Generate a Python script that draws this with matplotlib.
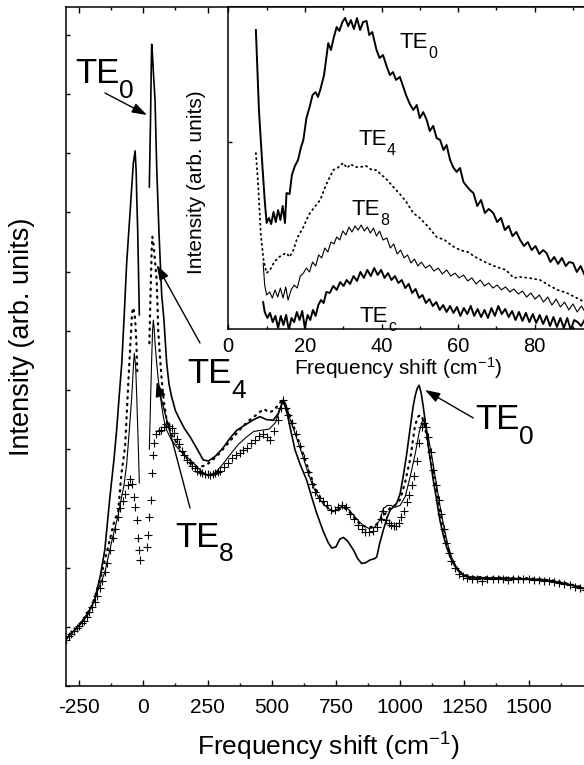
import numpy as np
import matplotlib
matplotlib.use('Agg')
import matplotlib.pyplot as plt
from matplotlib.ticker import MultipleLocator
from matplotlib.patches import FancyArrowPatch

plt.rcParams['font.family'] = ['Liberation Sans', 'DejaVu Sans']
plt.rcParams['mathtext.fontset'] = 'custom'
plt.rcParams['mathtext.rm'] = 'Liberation Sans'
plt.rcParams['mathtext.it'] = 'Liberation Sans:italic'
plt.rcParams['mathtext.bf'] = 'Liberation Sans:bold'
plt.rcParams['axes.unicode_minus'] = False

# ---------------- main panel data (x: cm^-1, y: arb. units) ----------------
tec_x = [-300, -290, -280, -270, -260, -250, -240, -230, -220, -210, -200, -190, -180, -170,
         -160, -150, -140, -130, -120, -110, -100, -90, -80, -70, -60, -52, -45, -38, -32,
         -26, -20, -16, -13,
         15, 20, 24, 28, 32, 36, 42, 50, 60, 70, 80, 90, 100, 110, 120, 130, 140, 150, 160,
         170, 180, 190, 200, 210, 220, 230, 240, 250, 260, 270, 280, 290, 300, 315, 330, 345,
         360, 375, 390, 405, 420, 435, 450, 465, 480, 495, 510, 525, 535, 545, 555, 565, 580,
         595, 610, 625, 640, 655, 670, 685, 700, 715, 730, 745, 760, 775, 790, 805, 820, 835,
         850, 865, 880, 895, 910, 925, 935, 945, 955, 965, 975, 985, 995, 1005, 1015, 1025,
         1035, 1045, 1055, 1065, 1075, 1085, 1092, 1100, 1110, 1120, 1130, 1140, 1150, 1160,
         1170, 1180, 1190, 1200, 1215, 1230, 1245, 1260, 1280, 1300, 1320, 1340, 1360, 1380,
         1400, 1420, 1440, 1460, 1480, 1500, 1520, 1540, 1560, 1580, 1600, 1620, 1640, 1660,
         1680, 1700, 1720]
tec_y = [0.78, 0.85, 0.88, 0.93, 0.98, 1.02, 1.06, 1.10, 1.17, 1.25, 1.33, 1.42, 1.52, 1.65,
         1.78, 1.92, 2.08, 2.30, 2.50, 2.66, 2.85, 3.00, 3.12, 3.25, 3.40, 3.50, 3.42, 3.20, 3.02,
         2.80, 2.50, 2.30, 2.13,
         2.35, 2.55, 2.85, 3.15, 3.60, 3.90, 4.10, 4.25, 4.30, 4.33, 4.38, 4.42, 4.40, 4.36, 4.28,
         4.18, 4.08, 3.97, 3.90, 3.82, 3.78, 3.72, 3.68, 3.64, 3.62, 3.60, 3.58, 3.58, 3.57, 3.58,
         3.60, 3.62, 3.64, 3.70, 3.77, 3.85, 3.90, 3.93, 3.98, 4.02, 4.10, 4.16, 4.22, 4.25, 4.20,
         4.16, 4.30, 4.50, 4.70, 4.83, 4.70, 4.58, 4.45, 4.25, 4.05, 3.85, 3.62, 3.42, 3.28, 3.18,
         3.12, 3.05, 2.98, 2.97, 3.02, 3.06, 3.02, 2.90, 2.82, 2.72, 2.65, 2.60, 2.60, 2.62, 2.68,
         2.82, 2.95, 2.80, 2.75, 2.72, 2.70, 2.70, 2.76, 2.85, 2.95, 3.10, 3.22, 3.40, 3.55, 3.80,
         4.10, 4.38, 4.44, 4.38, 4.20, 3.95, 3.65, 3.40, 3.15, 2.90, 2.65, 2.42, 2.25, 2.12, 2.00,
         1.90, 1.85, 1.82, 1.81, 1.80, 1.78, 1.80, 1.80, 1.81, 1.80, 1.79, 1.80, 1.80, 1.81, 1.80,
         1.79, 1.79, 1.78, 1.78, 1.76, 1.74, 1.72, 1.70, 1.68, 1.65, 1.62]

te0_as_x = [-300, -260, -220, -190, -168, -150, -130, -115, -104, -94, -84, -74, -65, -52, -39,
            -32, -28, -25.7, -22, -19.5, -15.6]
te0_as_y = [0.80, 0.98, 1.18, 1.45, 1.85, 2.30, 3.20, 3.80, 4.32, 4.90, 5.45, 6.30, 7.14, 7.98,
            8.83, 9.04, 8.70, 8.27, 7.70, 7.14, 6.27]
te0_s_x = [23.4, 26, 28, 31, 32.7, 35, 40, 45.6, 52, 61, 71.6, 80, 91, 100, 110, 125, 143, 160,
           182, 210, 233, 253, 280, 310, 340, 364, 400, 430, 454, 480, 506, 525, 545, 560, 575,
           590, 610, 636, 655, 675, 700, 720, 734, 750, 765, 779, 795, 818, 835, 850, 865, 883,
           900, 909, 920, 935, 950, 961, 975, 987, 1000, 1012, 1025, 1038, 1050, 1058, 1066,
           1074, 1082, 1090, 1100, 1110, 1120, 1129, 1142, 1155, 1168, 1181, 1195, 1207, 1225,
           1246, 1270, 1300, 1350, 1400, 1450, 1500, 1550, 1600, 1650, 1700, 1720]
te0_s_y = [8.43, 9.10, 9.56, 10.50, 10.84, 10.70, 10.30, 9.90, 8.77, 7.65, 6.60, 6.20, 5.45,
           5.10, 4.89, 4.65, 4.49, 4.35, 4.21, 4.00, 3.82, 3.80, 3.88, 4.02, 4.20, 4.32, 4.42,
           4.50, 4.55, 4.50, 4.49, 4.60, 4.83, 4.60, 4.30, 4.00, 3.75, 3.48, 3.20, 2.92, 2.62,
           2.42, 2.33, 2.35, 2.48, 2.51, 2.45, 2.30, 2.15, 2.07, 2.08, 2.13, 2.15, 2.18, 2.40,
           2.64, 2.85, 2.97, 3.03, 3.09, 3.25, 3.54, 3.90, 4.32, 4.70, 4.89, 5.02, 5.08, 4.95,
           4.72, 4.40, 4.04, 3.75, 3.48, 3.15, 2.80, 2.55, 2.35, 2.18, 2.07, 1.95, 1.87, 1.83,
           1.82, 1.82, 1.82, 1.81, 1.80, 1.80, 1.77, 1.72, 1.67, 1.64]

te4_as_x = [-300, -250, -200, -168, -140, -115, -98, -85, -71, -58, -44, -39, -32, -27, -23.4]
te4_as_y = [0.80, 1.02, 1.35, 1.80, 2.30, 2.75, 2.95, 3.60, 4.04, 5.17, 6.30, 6.39, 6.20, 5.80,
            5.29]
te4_s_x = [23.4, 28, 32, 35, 40, 45, 52, 58, 65, 71.6, 80, 91, 110, 130, 155, 182, 210, 240,
           260, 290, 320, 350, 380, 410, 440, 454, 470, 490, 510, 530, 545, 560, 580, 600, 620,
           640, 660, 680, 700, 720, 740, 760, 780, 800, 820, 840, 860, 880, 900, 920, 940, 960,
           980, 1000, 1020, 1040, 1058, 1070, 1080, 1090, 1100, 1115, 1130, 1145, 1160, 1175,
           1190, 1205, 1220, 1240, 1270, 1300, 1400, 1500, 1600, 1700, 1720]
te4_s_y = [5.79, 6.60, 7.30, 7.59, 7.45, 7.20, 6.86, 6.01, 5.55, 5.17, 4.80, 4.49, 4.25, 4.10,
           3.95, 3.76, 3.70, 3.72, 3.78, 3.90, 4.05, 4.20, 4.35, 4.48, 4.58, 4.63, 4.68, 4.62,
           4.66, 4.78, 4.83, 4.70, 4.45, 4.20, 3.95, 3.70, 3.45, 3.25, 3.12, 3.00, 2.95, 2.98,
           3.02, 2.95, 2.85, 2.75, 2.70, 2.68, 2.70, 2.78, 2.90, 3.00, 3.05, 3.15, 3.45, 3.85,
           4.40, 4.55, 4.58, 4.50, 4.30, 3.95, 3.55, 3.20, 2.85, 2.50, 2.25, 2.10, 2.00, 1.90,
           1.85, 1.84, 1.83, 1.82, 1.78, 1.68, 1.65]

te8_as_x = [-300, -250, -200, -150, -120, -100, -90.7, -75, -64.6, -55, -45, -38, -35, -30,
            -25.7, -20, -15.6]
te8_as_y = [0.80, 1.02, 1.35, 1.92, 2.50, 2.85, 3.05, 3.40, 3.76, 4.30, 4.89, 5.45, 5.62, 5.40,
            4.89, 4.10, 3.43]
te8_s_x = [23.4, 28, 33, 36, 39, 42, 45.6, 52, 58.4, 65, 71.6, 80, 91, 110, 130, 155, 182, 210,
           233, 255, 280, 310, 340, 370, 400, 430, 460, 490, 515, 530, 545, 560, 580, 600, 620,
           640, 660, 680, 700, 720, 740, 760, 780, 800, 820, 840, 860, 880, 900, 920, 935, 950,
           965, 980, 1000, 1020, 1040, 1060, 1075, 1088, 1098, 1110, 1125, 1140, 1155, 1170,
           1185, 1200, 1220, 1245, 1280, 1350, 1450, 1550, 1650, 1720]
te8_s_y = [4.00, 4.80, 5.60, 6.00, 6.18, 6.05, 5.79, 5.45, 5.17, 4.95, 4.72, 4.50, 4.32, 4.15,
           4.04, 3.92, 3.82, 3.70, 3.59, 3.55, 3.60, 3.75, 3.92, 4.08, 4.20, 4.30, 4.32, 4.34,
           4.45, 4.65, 4.83, 4.65, 4.40, 4.15, 3.90, 3.62, 3.38, 3.20, 3.08, 3.00, 2.95, 3.00,
           3.05, 2.98, 2.88, 2.78, 2.70, 2.66, 2.68, 2.80, 3.00, 3.05, 3.05, 3.02, 3.05, 3.20,
           3.55, 3.95, 4.30, 4.50, 4.42, 4.20, 3.85, 3.45, 3.05, 2.70, 2.40, 2.18, 2.00, 1.88,
           1.84, 1.83, 1.82, 1.80, 1.73, 1.64]

main_xticks = [-250, 0, 250, 500, 750, 1000, 1250, 1500]
main_xticklabels = ['-250', '0', '250', '500', '750', '1000', '1250', '1500']

# ---------------- inset data (low-frequency region) ----------------
in_te0_x = [7.2, 8.0, 8.8, 9.5, 10.0, 10.6, 11.2, 11.8, 12.4, 13.0, 13.6, 14.2, 14.8, 15.2, 16.0,
            16.6, 17.4, 18.2, 19.0, 19.6, 20.4, 21.3, 22.0, 22.8, 23.4, 24.0, 25.0, 26.1, 26.8,
            27.5, 28.3, 29.0, 29.8, 30.5, 31.3, 32.0, 32.8, 33.6, 34.4, 35.2, 36.1, 36.8, 37.6,
            38.7, 39.5, 40.4, 41.4, 42.2, 43.0, 43.8, 44.8, 45.7, 46.5, 47.4, 48.3, 49.2, 50.0,
            50.9, 51.8, 52.6, 53.5, 54.4, 55.3, 56.2, 57.0, 57.9, 58.7, 59.6, 60.5, 61.4, 62.2,
            63.1, 64.0, 65.0, 66.0, 67.0, 68.0, 69.2, 70.2, 71.2, 72.2, 73.2, 74.2, 75.2, 76.2,
            77.2, 78.2, 79.2, 80.2, 81.2, 82.2, 83.1, 84.1, 85.1, 86.1, 87.1, 88.1, 89.0, 90.0,
            91.0, 92.0, 93.0, 94.0]
in_te0_y = [1.599, 1.171, 0.904, 0.690, 0.567, 0.594, 0.561, 0.626, 0.572, 0.636, 0.583, 0.658,
            0.567, 0.727, 0.722, 0.824, 0.872, 0.904, 0.973, 1.011, 1.128, 1.193, 1.251, 1.267,
            1.241, 1.278, 1.358, 1.529, 1.492, 1.556, 1.615, 1.594, 1.642, 1.663, 1.620, 1.652,
            1.604, 1.663, 1.599, 1.642, 1.647, 1.572, 1.588, 1.492, 1.449, 1.465, 1.401, 1.358,
            1.374, 1.332, 1.348, 1.294, 1.246, 1.203, 1.171, 1.198, 1.128, 1.160, 1.118, 1.059,
            1.086, 1.021, 1.011, 0.957, 0.984, 0.904, 0.866, 0.840, 0.861, 0.786, 0.765, 0.743,
            0.727, 0.658, 0.690, 0.620, 0.642, 0.620, 0.572, 0.594, 0.529, 0.551, 0.497, 0.519,
            0.476, 0.444, 0.465, 0.422, 0.444, 0.401, 0.422, 0.406, 0.358, 0.385, 0.348, 0.380,
            0.337, 0.358, 0.353, 0.305, 0.337, 0.289, 0.305]

in_te4_x = [7.2, 7.8, 8.5, 9.2, 10.0, 10.9, 12.0, 13.0, 14.0, 15.2, 16.0, 17.0, 18.0, 19.6, 21.0,
            22.5, 24.0, 25.5, 27.4, 28.5, 30.0, 31.0, 32.0, 33.0, 34.4, 36.0, 37.5, 38.7, 40.0,
            41.5, 43.1, 45.0, 46.5, 48.3, 50.0, 52.0, 54.4, 56.5, 58.5, 60.5, 62.5, 64.5, 67.5,
            70.0, 72.5, 74.5, 76.2, 78.5, 81.4, 84.0, 86.0, 88.4, 90.5, 93.0]
in_te4_y = [0.941, 0.770, 0.503, 0.369, 0.299, 0.316, 0.358, 0.380, 0.396, 0.406, 0.385, 0.422,
            0.487, 0.545, 0.610, 0.652, 0.690, 0.770, 0.850, 0.861, 0.888, 0.861, 0.882, 0.866,
            0.866, 0.872, 0.850, 0.850, 0.824, 0.797, 0.759, 0.717, 0.679, 0.620, 0.594, 0.551,
            0.492, 0.476, 0.444, 0.422, 0.412, 0.385, 0.353, 0.332, 0.316, 0.273, 0.278, 0.273,
            0.262, 0.230, 0.209, 0.193, 0.171, 0.144]

in_te8_x = [9.1, 9.5, 10.0, 10.8, 11.5, 12.2, 12.9, 13.6, 14.3, 15.0, 15.6, 16.4, 17.2, 18.0,
            18.8, 19.6, 20.4, 21.2, 22.0, 22.8, 23.6, 24.4, 25.2, 26.0, 26.8, 27.6, 28.3, 29.1,
            29.9, 30.7, 31.5, 32.3, 33.1, 33.9, 34.7, 35.5, 36.3, 37.1, 37.9, 38.7, 39.5, 40.4,
            41.4, 42.3, 43.2, 44.1, 45.0, 45.9, 46.8, 47.7, 48.6, 49.5, 50.4, 51.5, 52.6, 53.7,
            54.8, 55.9, 57.0, 58.1, 59.2, 60.3, 61.4, 62.5, 63.6, 64.7, 65.8, 66.9, 68.0, 69.1,
            70.2, 71.3, 72.4, 73.5, 74.6, 75.7, 76.8, 77.9, 79.0, 80.1, 81.2, 82.3, 83.4, 84.5,
            85.6, 86.7, 87.8, 88.9, 90.0, 91.1, 92.2, 93.3]
in_te8_y = [0.353, 0.235, 0.182, 0.198, 0.166, 0.209, 0.171, 0.219, 0.166, 0.225, 0.155, 0.209,
            0.235, 0.219, 0.283, 0.299, 0.326, 0.305, 0.358, 0.337, 0.396, 0.380, 0.433, 0.412,
            0.465, 0.455, 0.492, 0.476, 0.524, 0.503, 0.545, 0.519, 0.551, 0.529, 0.556, 0.524,
            0.545, 0.513, 0.540, 0.497, 0.524, 0.476, 0.487, 0.433, 0.455, 0.401, 0.422, 0.380,
            0.396, 0.353, 0.374, 0.337, 0.358, 0.326, 0.342, 0.310, 0.326, 0.294, 0.316, 0.283,
            0.299, 0.273, 0.289, 0.257, 0.273, 0.241, 0.262, 0.230, 0.246, 0.219, 0.235, 0.209,
            0.225, 0.198, 0.214, 0.187, 0.203, 0.171, 0.193, 0.160, 0.182, 0.144, 0.171, 0.128,
            0.160, 0.118, 0.144, 0.102, 0.134, 0.091, 0.123, 0.086]

in_tec_x = [9.1, 9.5, 10.2, 10.9, 11.6, 12.3, 13.0, 13.7, 14.4, 15.1, 15.8, 16.5, 17.2, 17.9,
            18.6, 19.3, 20.0, 20.7, 21.4, 22.1, 22.8, 23.5, 24.2, 24.9, 25.6, 26.5, 27.4, 28.3,
            29.2, 30.1, 30.9, 31.8, 32.7, 33.6, 34.5, 35.4, 36.3, 37.2, 38.1, 39.0, 39.9, 40.8,
            41.7, 42.6, 43.5, 44.4, 45.3, 46.2, 47.1, 48.0, 48.9, 49.8, 50.7, 51.6, 52.5, 53.4,
            54.3, 55.2, 56.1, 57.0, 57.9, 58.8, 59.7, 60.6, 61.5, 62.4, 63.3, 64.2, 65.1, 66.0,
            66.9, 67.8, 68.7, 69.6, 70.5, 71.4, 72.3, 73.2, 74.1, 75.0, 75.9, 76.8, 77.7, 78.6,
            79.5, 80.4, 81.3, 82.2, 83.1, 84.0, 84.9, 85.8, 86.7, 87.6, 88.5, 89.4, 90.3, 91.2,
            92.1, 93.0]
in_tec_y = [0.144, 0.091, 0.059, 0.086, 0.037, 0.070, 0.005, 0.070, 0.021, 0.075, -0.005, 0.059,
            0.037, 0.091, 0.048, 0.096, 0.005, 0.075, 0.048, 0.102, 0.070, 0.128, 0.155, 0.139,
            0.198, 0.193, 0.230, 0.209, 0.251, 0.230, 0.262, 0.241, 0.283, 0.257, 0.305, 0.273,
            0.316, 0.283, 0.326, 0.289, 0.316, 0.273, 0.299, 0.262, 0.283, 0.246, 0.262, 0.219,
            0.241, 0.193, 0.214, 0.166, 0.182, 0.139, 0.160, 0.123, 0.144, 0.102, 0.128, 0.091,
            0.123, 0.086, 0.118, 0.070, 0.112, 0.080, 0.123, 0.070, 0.107, 0.064, 0.102, 0.059,
            0.112, 0.070, 0.123, 0.080, 0.107, 0.064, 0.096, 0.048, 0.091, 0.043, 0.086, 0.037,
            0.080, 0.032, 0.075, 0.027, 0.070, 0.016, 0.064, 0.011, 0.059, 0.005, 0.059, -0.005,
            0.048, 0.037, 0.016, 0.048]

inset_xticks = [0, 20, 40, 60, 80]
inset_xticklabels = ['0', '20', '40', '60', '80']

# ---------------- figure ----------------
W, H = 584, 765
fig = plt.figure(figsize=(W / 100, H / 100), dpi=100)
renderer = fig.canvas.get_renderer()


def fx(px):
    return px / W


def fy(py):
    return 1 - py / H


def te_label(x_px, base_px, sub, size, sub_scale=0.76, drop=0.42, gap=0.0):
    t = fig.text(fx(x_px), fy(base_px), 'TE', fontsize=size, va='baseline', ha='left')
    bb = t.get_window_extent(renderer)
    em = size * 100 / 72
    fig.text((bb.x1 + gap) / W, fy(base_px + drop * em), sub, fontsize=size * sub_scale,
             va='baseline', ha='left')


ax = fig.add_axes([fx(66.3), fy(686), (592.7 - 66.3) / W, 679 / H])
ax.plot(tec_x, tec_y, linestyle='none', marker='+', ms=6, mew=0.8, color='black')
ax.plot(te0_as_x, te0_as_y, '-', color='black', lw=1.2)
ax.plot(te0_s_x, te0_s_y, '-', color='black', lw=1.2)
ax.plot(te4_as_x, te4_as_y, color='black', lw=1.6, linestyle=(0, (0.6, 2.4)),
        dash_capstyle='round')
ax.plot(te4_s_x, te4_s_y, color='black', lw=1.6, linestyle=(0, (0.6, 2.4)),
        dash_capstyle='round')
ax.plot(te8_as_x, te8_as_y, '-', color='black', lw=0.8)
ax.plot(te8_s_x, te8_s_y, '-', color='black', lw=0.8)

ax.set_xlim(-300, 1750)
ax.set_ylim(0, 11.47)
ax.set_xticks(main_xticks)
ax.set_xticklabels(main_xticklabels)
ax.xaxis.set_minor_locator(MultipleLocator(125))
ax.yaxis.set_major_locator(MultipleLocator(1))
ax.tick_params(axis='x', which='major', direction='in', length=4.5, width=1, top=True,
               labelsize=15, pad=8.5)
ax.tick_params(axis='x', which='minor', direction='in', length=2.5, width=1, top=True)
ax.tick_params(axis='y', which='major', direction='in', length=3, width=1, left=True,
               right=True, labelleft=False)
for s in ax.spines.values():
    s.set_linewidth(1.1)
ax.set_xlabel('Frequency shift (cm$^{\\mathregular{-1}}$)', fontsize=19)
ax.xaxis.set_label_coords(0.497, -0.066)
ax.set_ylabel('Intensity (arb. units)', fontsize=19.5)
ax.yaxis.set_label_coords(-0.0595, 0.514)

# annotations
big = 25
te_label(75, 83, '0', big)
te_label(187, 383, '4', big)
te_label(175, 546.7, '8', big)
te_label(475, 429, '0', big)

arrow_kw = dict(arrowstyle='-|>,head_length=0.9,head_width=0.3', color='black', lw=1.0,
                shrinkA=0, shrinkB=0, mutation_scale=10)
for (x0, y0, x1, y1) in [(105, 93, 147, 115), (200, 343, 156.7, 265),
                         (190, 508, 156.7, 381.7), (473.3, 418, 425, 390)]:
    fig.add_artist(FancyArrowPatch((fx(x0), fy(y0)), (fx(x1), fy(y1)),
                                   transform=fig.transFigure, **arrow_kw))

# ---------------- inset ----------------
axi = fig.add_axes([fx(228.3), fy(329), 383 / W, 322 / H])
axi.set_facecolor('white')
axi.plot(in_te0_x, in_te0_y, '-', color='black', lw=1.4)
axi.plot(in_te4_x, in_te4_y, color='black', lw=1.3, linestyle=(0, (0.6, 2.2)),
         dash_capstyle='round')
axi.plot(in_te8_x, in_te8_y, '-', color='black', lw=0.8)
axi.plot(in_tec_x, in_tec_y, '-', color='black', lw=1.4)
axi.set_xlim(0, 100)
axi.set_ylim(0, 1.722)
axi.set_xticks(inset_xticks)
axi.set_xticklabels(inset_xticklabels)
axi.xaxis.set_minor_locator(MultipleLocator(10))
axi.set_yticks([1.0])
axi.tick_params(axis='x', which='major', direction='in', length=3.5, width=1, top=True,
                labelsize=14.5, pad=5.5)
axi.tick_params(axis='x', which='minor', direction='in', length=2, width=1, top=True)
axi.tick_params(axis='y', which='major', direction='in', length=3, width=1, left=True,
                right=True, labelleft=False)
for s in axi.spines.values():
    s.set_linewidth(1.1)
axi.set_xlabel('Frequency shift (cm$^{\\mathregular{-1}}$)', fontsize=15)
axi.xaxis.set_label_coords(0.443, -0.080)
axi.set_ylabel('Intensity (arb. units)', fontsize=15)
axi.yaxis.set_label_coords(-0.058, 0.4565)

small = 16
te_label(400, 48.3, '0', small, sub_scale=0.72, drop=0.44)
te_label(358.3, 145, '4', small, sub_scale=0.72, drop=0.44)
te_label(351.7, 215, '8', small, sub_scale=0.72, drop=0.44)
te_label(360, 321.7, 'c', small, sub_scale=0.72, drop=0.44)

fig.savefig('out.png', dpi=100)
